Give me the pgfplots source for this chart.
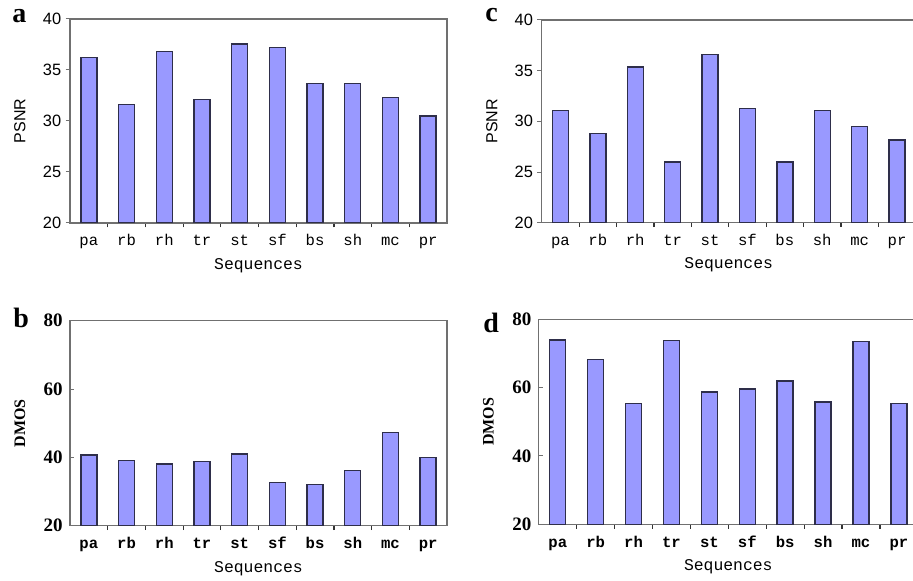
\documentclass[border=0pt]{standalone}
\usepackage{pgfplots}
\pgfplotsset{compat=1.18}
\usepackage{fontspec}
\setmainfont{Liberation Sans}
\newfontfamily\seqfont{Liberation Mono}
\newfontfamily\timesfont{Liberation Serif}

\definecolor{barfill}{HTML}{9999FF}
\definecolor{baredge}{HTML}{2E2E4A}
\definecolor{framegray}{HTML}{707070}

\pgfplotsset{
  seqpanel/.style={
    scale only axis, anchor=south west,
    xmin=-0.5, xmax=9.5, ymin=20,
    % tick marks between the categories, names as extra ticks
    xtick={0.5,1.5,...,8.5}, xticklabels={},
    extra x ticks={0,...,9},
    extra x tick labels={pa,rb,rh,tr,st,sf,bs,sh,mc,pr},
    extra x tick style={major tick length=0pt, xtick style={draw=none}},
    x tick style={black!80, line width=0.6pt},
    major tick length=2.2pt,
    xtick pos=bottom, ytick pos=left,
    axis line style={framegray, line width=0.6pt},
    y tick style={framegray, line width=0.5pt},
    xticklabel style={anchor=base, yshift=-11.5pt},
    yticklabel style={anchor=east, inner sep=0pt},
    /pgf/number format/assume math mode=true,
    xlabel={Sequences},
    every axis x label/.style={at={(axis description cs:0.5,-0.226)}, anchor=base, font=\seqfont\fontsize{8.2}{9}\selectfont},
    every axis y label/.style={at={(axis description cs:-0.133,0.5)}, rotate=90, anchor=center},
    ybar, bar width=8pt,
  },
  psnrpanel/.style={
    seqpanel, ymax=40, ytick={20,25,30,35,40},
    ytick align=outside,
    xticklabel style={font=\seqfont\fontsize{7.8}{9}\selectfont},
    yticklabel style={font=\fontsize{8.2}{9}\selectfont, xshift=-2.0pt},
    ylabel={PSNR}, ylabel style={font=\fontsize{8}{9}\selectfont},
  },
  dmospanel/.style={
    seqpanel, ymax=80, ytick={20,40,60,80},
    ytick align=inside,
    xticklabel style={font=\seqfont\bfseries\fontsize{7.8}{9}\selectfont},
    yticklabel style={font=\timesfont\bfseries\fontsize{9.5}{10}\selectfont, xshift=-3.5pt},
    ylabel={DMOS}, ylabel style={font=\timesfont\bfseries\fontsize{8}{9}\selectfont},
  },
  barstyle/.style={fill=barfill, draw=baredge, line width=0.7pt},
}

\begin{document}
\begin{tikzpicture}
\useasboundingbox (0,0) rectangle (456.5pt,290.5pt);

% a
\begin{axis}[psnrpanel, at={(35pt,179pt)}, width=188.5pt, height=102pt]
\addplot[barstyle] coordinates {(0,36.2) (1,31.6) (2,36.8) (3,32.1) (4,37.55) (5,37.2) (6,33.7) (7,33.7) (8,32.3) (9,30.5)};
\end{axis}

% c
\begin{axis}[psnrpanel, at={(270.85pt,179.15pt)}, width=187pt, height=101.35pt]
\addplot[barstyle] coordinates {(0,31.05) (1,28.8) (2,35.35) (3,26.0) (4,36.6) (5,31.25) (6,26.0) (7,31.05) (8,29.5) (9,28.15)};
\end{axis}

% b
\begin{axis}[dmospanel, at={(35pt,27.65pt)}, width=188.5pt, height=102.5pt]
\addplot[barstyle] coordinates {(0,40.7) (1,39.1) (2,38.0) (3,38.8) (4,41.0) (5,32.7) (6,32.0) (7,36.1) (8,47.3) (9,40.0)};
\end{axis}

% d
\begin{axis}[dmospanel, at={(269.4pt,28.35pt)}, width=189.5pt, height=102.5pt]
\addplot[barstyle] coordinates {(0,74.0) (1,68.2) (2,55.4) (3,73.75) (4,58.7) (5,59.6) (6,62.0) (7,55.8) (8,73.5) (9,55.4)};
\end{axis}

\node[anchor=base west, font=\timesfont\bfseries\fontsize{14}{14}\selectfont, inner sep=0pt] at (6pt,279.2pt) {a};
\node[anchor=base west, font=\timesfont\bfseries\fontsize{14}{14}\selectfont, inner sep=0pt] at (242.5pt,279.5pt) {c};
\node[anchor=base west, font=\timesfont\bfseries\fontsize{14}{14}\selectfont, inner sep=0pt] at (6.5pt,126.9pt) {b};
\node[anchor=base west, font=\timesfont\bfseries\fontsize{14}{14}\selectfont, inner sep=0pt] at (241.5pt,124.2pt) {d};
\end{tikzpicture}
\end{document}
